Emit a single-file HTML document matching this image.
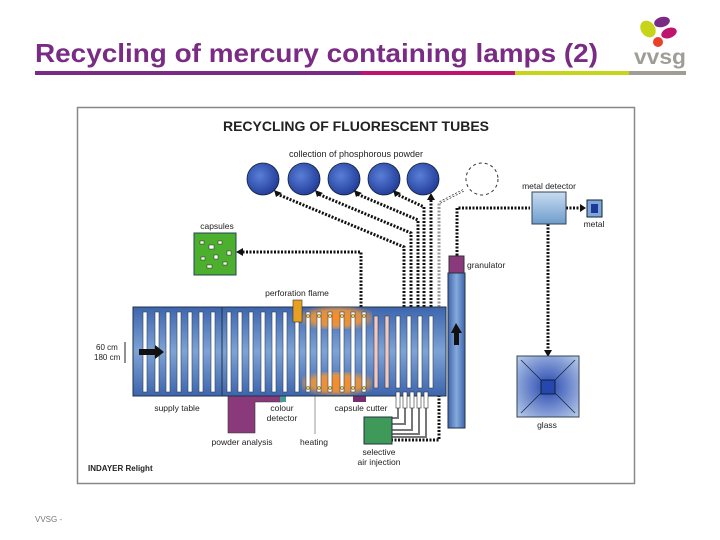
<!DOCTYPE html>
<html><head><meta charset="utf-8"><style>
html,body{margin:0;padding:0;background:#fff;}
body{width:720px;height:540px;overflow:hidden;position:relative;font-family:"Liberation Sans",sans-serif;}
</style></head><body>
<svg width="720" height="540" viewBox="0 0 720 540" xmlns="http://www.w3.org/2000/svg" style="position:absolute;left:0;top:0">
<defs>
<linearGradient id="tb" x1="0" y1="0" x2="0" y2="1"><stop offset="0" stop-color="#3d65ad"/><stop offset="0.5" stop-color="#7da3d6"/><stop offset="1" stop-color="#3d65ad"/></linearGradient>
<radialGradient id="cg" cx="0.4" cy="0.4" r="0.7"><stop offset="0" stop-color="#5a7fd8"/><stop offset="1" stop-color="#1a3592"/></radialGradient>
<radialGradient id="gg" cx="0.5" cy="0.5" r="0.7"><stop offset="0" stop-color="#2747b0"/><stop offset="1" stop-color="#b9cdea"/></radialGradient>
<linearGradient id="md" x1="0" y1="0" x2="0" y2="1"><stop offset="0" stop-color="#c8dcf0"/><stop offset="1" stop-color="#6e9ccc"/></linearGradient>
<linearGradient id="col" x1="0" y1="0" x2="1" y2="0"><stop offset="0" stop-color="#3d65ad"/><stop offset="0.5" stop-color="#86aadb"/><stop offset="1" stop-color="#3d65ad"/></linearGradient>
<radialGradient id="heat" cx="0.5" cy="0.5" r="0.6"><stop offset="0" stop-color="#ff8a20" stop-opacity="1"/><stop offset="0.6" stop-color="#ff9a30" stop-opacity="0.8"/><stop offset="1" stop-color="#ff9a30" stop-opacity="0"/></radialGradient>
</defs>
<!-- header -->
<text x="35" y="62" font-family="Liberation Sans" font-size="26" font-weight="bold" fill="#7a2c84" textLength="563" lengthAdjust="spacingAndGlyphs">Recycling of mercury containing lamps (2)</text>
<rect x="35" y="71" width="326" height="4" fill="#7a2c84"/>
<rect x="361" y="71" width="154" height="4" fill="#c0136e"/>
<rect x="515" y="71" width="114" height="4" fill="#c6d41a"/>
<rect x="629" y="71" width="57" height="4" fill="#a09d96"/>
<ellipse cx="648" cy="29" rx="7" ry="9" fill="#c6d41a" transform="rotate(-35 648 29)"/>
<ellipse cx="662" cy="22" rx="8" ry="5" fill="#7a2c84" transform="rotate(-15 662 22)"/>
<ellipse cx="669" cy="33" rx="8" ry="5" fill="#c0136e" transform="rotate(-20 669 33)"/>
<circle cx="658" cy="42" r="5" fill="#e8402a"/>
<text x="634" y="64" font-size="21" font-weight="bold" fill="#a09d96" textLength="52" lengthAdjust="spacingAndGlyphs">vvsg</text>
<text x="35" y="522" font-size="8" fill="#777">VVSG -</text>
<!-- frame -->
<rect x="77.5" y="107.5" width="557" height="376" fill="#fff" stroke="#888" stroke-width="1.5"/>
<text x="356" y="131" text-anchor="middle" font-size="14" font-weight="bold" fill="#222">RECYCLING OF FLUORESCENT TUBES</text>
<text x="356" y="157" text-anchor="middle" font-size="9" fill="#222">collection of phosphorous powder</text>
<g stroke="#123" stroke-width="0.8">
<circle cx="263" cy="179" r="16" fill="url(#cg)"/><circle cx="304" cy="179" r="16" fill="url(#cg)"/><circle cx="344" cy="179" r="16" fill="url(#cg)"/><circle cx="384" cy="179" r="16" fill="url(#cg)"/><circle cx="423" cy="179" r="16" fill="url(#cg)"/>
</g>
<circle cx="482" cy="179" r="16" fill="none" stroke="#333" stroke-dasharray="3,3"/>
<!-- dashed connectors -->
<g fill="none" stroke="#111" stroke-width="3" stroke-dasharray="2,1.5">
<polyline points="404,307 404,247 277,194"/>
<polyline points="411,307 411,233 318,194"/>
<polyline points="418,307 418,220 357,194"/>
<polyline points="424,307 424,207 396,194"/>
<polyline points="431,307 431,198"/>
<polyline points="361,307 361,252 240,252"/>
<polyline points="457,273 457,208 530,208"/>
<polyline points="566,208 582,208"/>
<polyline points="548,224 548,350"/>
<polyline points="439,395 439,440 392,440"/>
</g>
<polyline points="439,307 439,203 464,190" fill="none" stroke="#333" stroke-width="2.5" stroke-dasharray="2,1.5"/>
<polyline points="439,307 439,203 464,190" fill="none" stroke="#fff" stroke-width="1"/>
<g fill="#111">
<polygon points="274,190 282,193 276,197"/><polygon points="315,190 323,193 317,197"/><polygon points="354,190 362,193 356,197"/><polygon points="393,190 401,193 395,197"/>
<polygon points="427,200 431,193 435,200"/><polygon points="236,252 243,248 243,256"/><polygon points="586,208 580,204 580,212"/><polygon points="544,350 552,350 548,357"/>
</g>
<!-- metal detector -->
<text x="549" y="189" text-anchor="middle" font-size="8.5" fill="#222">metal detector</text>
<rect x="532" y="192" width="34" height="32" fill="url(#md)" stroke="#345"/>
<rect x="587" y="200" width="15" height="17" fill="#7fa6d8" stroke="#123"/>
<rect x="591" y="204" width="7" height="9" fill="#1d3a9a"/>
<text x="594" y="227" text-anchor="middle" font-size="8.5" fill="#222">metal</text>
<!-- glass -->
<rect x="517" y="356" width="62" height="61" fill="url(#gg)" stroke="#345"/>
<g stroke="#123" stroke-width="0.7"><line x1="521" y1="360" x2="541" y2="380"/><line x1="575" y1="360" x2="555" y2="380"/><line x1="521" y1="413" x2="541" y2="393"/><line x1="575" y1="413" x2="555" y2="393"/></g>
<rect x="541" y="380" width="14" height="14" fill="#2747b0" stroke="#123"/>
<text x="547" y="428" text-anchor="middle" font-size="8.5" fill="#222">glass</text>
<!-- capsules -->
<text x="217" y="229" text-anchor="middle" font-size="8.5" fill="#222">capsules</text>
<rect x="194" y="233" width="42" height="42" fill="#4caf2d" stroke="#245"/>
<g fill="#fff" stroke="#222" stroke-width="0.5"><rect x="200" y="241" width="4" height="3"/><rect x="209" y="245" width="5" height="4"/><rect x="218" y="241" width="4" height="3"/><rect x="227" y="251" width="4" height="4"/><rect x="201" y="257" width="4" height="3"/><rect x="214" y="255" width="4" height="4"/><rect x="207" y="265" width="5" height="3"/><rect x="223" y="262" width="4" height="3"/></g>
<!-- granulator column -->
<rect x="449" y="256" width="15" height="17" fill="#8a3a7a" stroke="#333"/>
<text x="467" y="268" font-size="8.5" fill="#222">granulator</text>
<rect x="448" y="273" width="17" height="155" fill="url(#col)" stroke="#234"/>
<polygon points="456,323 451,333 454,333 454,345 459,345 459,333 462,333" fill="#111"/>
<!-- purple boxes -->
<path d="M228 396 H282 V402 H255 V433 H228 Z" fill="#8a3a7a" stroke="#333" stroke-width="0.6"/>
<rect x="280" y="396" width="6" height="6" fill="#4a9a9a"/>
<rect x="353" y="396" width="13" height="6" fill="#7a2c70"/>
<line x1="315" y1="396" x2="315" y2="434" stroke="#555" stroke-width="0.6"/>
<!-- table -->
<rect x="133" y="307" width="313" height="89" fill="url(#tb)" stroke="#234"/>
<line x1="222" y1="307" x2="222" y2="396" stroke="#234"/>
<rect x="302" y="307" width="70" height="22" fill="url(#heat)"/>
<rect x="302" y="372" width="70" height="23" fill="url(#heat)"/>
<g fill="#fff" stroke="#345" stroke-width="0.6">
<rect x="143" y="312" width="4" height="80"/><rect x="155" y="312" width="4" height="80"/><rect x="166" y="312" width="4" height="80"/><rect x="177" y="312" width="4" height="80"/><rect x="188" y="312" width="4" height="80"/><rect x="199" y="312" width="4" height="80"/><rect x="211" y="312" width="4" height="80"/>
<rect x="227" y="312" width="4" height="80"/><rect x="238" y="312" width="4" height="80"/><rect x="249" y="312" width="4" height="80"/><rect x="261" y="312" width="4" height="80"/><rect x="272" y="312" width="4" height="80"/><rect x="283" y="312" width="4" height="80"/><rect x="295" y="312" width="4" height="80"/>
<rect x="306" y="312" width="4" height="80"/><rect x="317" y="312" width="4" height="80"/><rect x="328" y="312" width="4" height="80"/><rect x="340" y="312" width="4" height="80"/><rect x="351" y="312" width="4" height="80"/><rect x="362" y="312" width="4" height="80"/>
<rect x="374" y="316" width="4" height="72" fill="#f4c8c0"/><rect x="385" y="316" width="4" height="72" fill="#f4c8c0"/>
<rect x="396" y="316" width="4" height="72"/><rect x="407" y="316" width="4" height="72"/><rect x="418" y="316" width="4" height="72"/><rect x="429" y="316" width="4" height="72"/>
</g>
<g fill="#f0d040" stroke="#333" stroke-width="0.4">
<circle cx="308" cy="316" r="1.6"/><circle cx="319" cy="316" r="1.6"/><circle cx="330" cy="316" r="1.6"/><circle cx="342" cy="316" r="1.6"/><circle cx="353" cy="316" r="1.6"/><circle cx="364" cy="316" r="1.6"/>
<circle cx="308" cy="388" r="1.6"/><circle cx="319" cy="388" r="1.6"/><circle cx="330" cy="388" r="1.6"/><circle cx="342" cy="388" r="1.6"/><circle cx="353" cy="388" r="1.6"/><circle cx="364" cy="388" r="1.6"/>
</g>
<rect x="293" y="300" width="9" height="22" fill="#e8a020" stroke="#333" stroke-width="0.6"/>
<text x="297" y="296" text-anchor="middle" font-size="8.5" fill="#222">perforation flame</text>
<polygon points="139,349 155,349 155,345 164,352 155,359 155,355 139,355" fill="#111"/>
<text x="96" y="350" font-size="8" fill="#222">60 cm</text>
<text x="94" y="360" font-size="8" fill="#222">180 cm</text>
<line x1="125" y1="342" x2="125" y2="363" stroke="#222"/>
<!-- air injection -->
<g fill="none" stroke="#777" stroke-width="2"><path d="M398 396 V418 H392"/><path d="M405 396 V424 H392"/><path d="M412 396 V430 H392"/><path d="M419 396 V434 H392"/><path d="M426 396 V437 H392"/></g>
<g fill="#fff" stroke="#333" stroke-width="0.6"><rect x="396" y="392" width="4" height="16"/><rect x="403" y="392" width="4" height="16"/><rect x="410" y="392" width="4" height="16"/><rect x="417" y="392" width="4" height="16"/><rect x="424" y="392" width="4" height="16"/></g>
<rect x="364" y="417" width="28" height="27" fill="#3f9a5a" stroke="#234"/>
<g font-size="8.5" fill="#222" text-anchor="middle">
<text x="177" y="411">supply table</text><text x="282" y="411">colour</text><text x="282" y="421">detector</text><text x="361" y="411">capsule cutter</text>
<text x="242" y="445">powder analysis</text><text x="314" y="445">heating</text><text x="379" y="455">selective</text><text x="379" y="465">air injection</text>
</g>
<text x="88" y="471" font-size="8" font-weight="bold" fill="#222">INDAYER Relight</text>
</svg>
</body></html>
